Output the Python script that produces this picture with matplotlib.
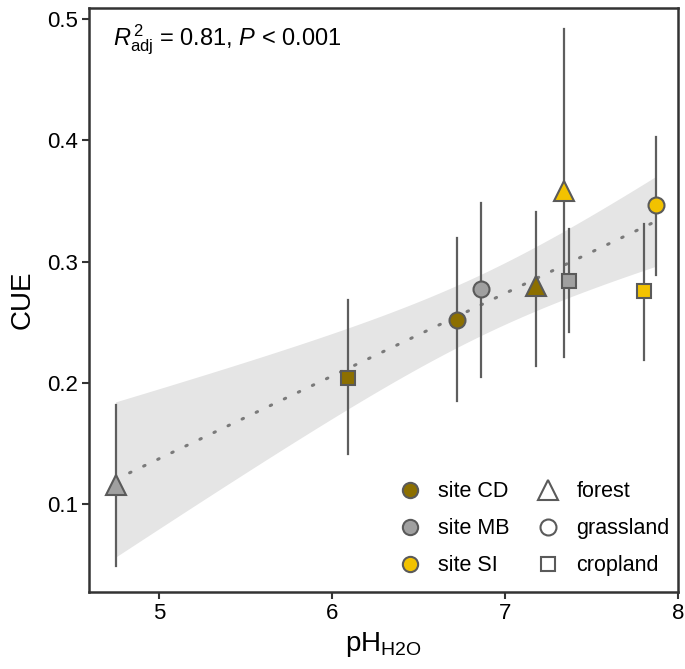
import numpy as np
import matplotlib
matplotlib.use("Agg")
import matplotlib.pyplot as plt
from matplotlib.lines import Line2D

plt.rcParams['font.family'] = ['Liberation Sans', 'DejaVu Sans']
plt.rcParams['mathtext.fontset'] = 'custom'
plt.rcParams['mathtext.rm'] = 'Liberation Sans'
plt.rcParams['mathtext.it'] = 'Liberation Sans:italic'

# site means (pH, CUE) with error bar ends
sites = ["CD", "MB", "SI", "CD", "MB", "SI", "CD", "MB", "SI"]
landuse = ["forest", "forest", "forest", "grassland", "grassland", "grassland",
           "cropland", "cropland", "cropland"]
ph = [7.18, 4.75, 7.34, 6.72, 6.86, 7.87, 6.09, 7.37, 7.80]
cue = [0.280, 0.116, 0.358, 0.252, 0.277, 0.347, 0.204, 0.284, 0.276]
cue_lo = [0.214, 0.049, 0.221, 0.185, 0.205, 0.289, 0.141, 0.242, 0.219]
cue_hi = [0.341, 0.182, 0.492, 0.319, 0.348, 0.403, 0.268, 0.327, 0.331]

site_colors = {"CD": "#8c6f00", "MB": "#a0a0a0", "SI": "#f2c200"}
site_names = {"CD": "site CD", "MB": "site MB", "SI": "site SI"}
shapes = {"forest": "^", "grassland": "o", "cropland": "s"}
sizes = {"forest": 14, "grassland": 11.5, "cropland": 10}

T_975_DF7 = 2.3646  # t quantile for 95% CI, n-2 = 7

x = np.array(ph)
y = np.array(cue)
slope, icpt = np.polyfit(x, y, 1)
n = len(x)
resid = y - (slope * x + icpt)
s = np.sqrt(np.sum(resid ** 2) / (n - 2))
sxx = np.sum((x - x.mean()) ** 2)
xs = np.linspace(x.min(), x.max(), 200)
fit = slope * xs + icpt
half = T_975_DF7 * s * np.sqrt(1 / n + (xs - x.mean()) ** 2 / sxx)

fig = plt.figure(figsize=(6.85, 6.69), dpi=100)
ax = fig.add_axes([0.130, 0.115, 0.860, 0.873])

ax.fill_between(xs, fit - half, fit + half, color="#e5e5e5", lw=0, zorder=1)
ax.plot(xs, fit, color="#7a7a7a", lw=2.2, ls=(0, (0.5, 4.6)),
        dash_capstyle="round", zorder=2)

for i in range(n):
    ax.plot([ph[i], ph[i]], [cue_lo[i], cue_hi[i]], color="#5e5e5e", lw=1.6,
            zorder=3)
for i in range(n):
    ax.plot(ph[i], cue[i], marker=shapes[landuse[i]], ms=sizes[landuse[i]],
            mfc=site_colors[sites[i]], mec="#5a5a5a", mew=1.5, ls="none",
            zorder=4)

ax.set_xlim(4.597, 8.0)
ax.set_ylim(0.0275, 0.509)
ax.set_xticks([5, 6, 7, 8])
ax.set_yticks([0.1, 0.2, 0.3, 0.4, 0.5])
ax.set_yticklabels(["0.1", "0.2", "0.3", "0.4", "0.5"])
ax.tick_params(labelsize=16, length=5, width=1.5, color="#333333",
               labelcolor="black", pad=3)
for sp in ax.spines.values():
    sp.set_linewidth(1.8)
    sp.set_color("#333333")

ax.set_xlabel(r"pH$_{\mathrm{H2O}}$", fontsize=20, labelpad=4)
ax.set_ylabel("CUE", fontsize=20, labelpad=8)

ax.text(0.040, 0.975, r"$R^{\,2}_{\mathrm{adj}}$ = 0.81, $P$ < 0.001",
        transform=ax.transAxes, fontsize=17, va="top", ha="left")

handles = []
for k in ["CD", "MB", "SI"]:
    handles.append(Line2D([], [], marker="o", ls="none", ms=11,
                          mfc=site_colors[k], mec="#5a5a5a", mew=1.5,
                          label=site_names[k]))
for k in ["forest", "grassland", "cropland"]:
    handles.append(Line2D([], [], marker=shapes[k], ls="none",
                          ms=sizes[k] * 1.0, mfc="white", mec="#5a5a5a",
                          mew=1.5, label=k))
ax.legend(handles=handles, ncol=2, loc="lower right", frameon=False,
          fontsize=15.5, handletextpad=0.3, columnspacing=0.8,
          labelspacing=0.75, borderaxespad=0.0,
          bbox_to_anchor=(1.0, 0.012))

fig.savefig("out.png", dpi=100)
